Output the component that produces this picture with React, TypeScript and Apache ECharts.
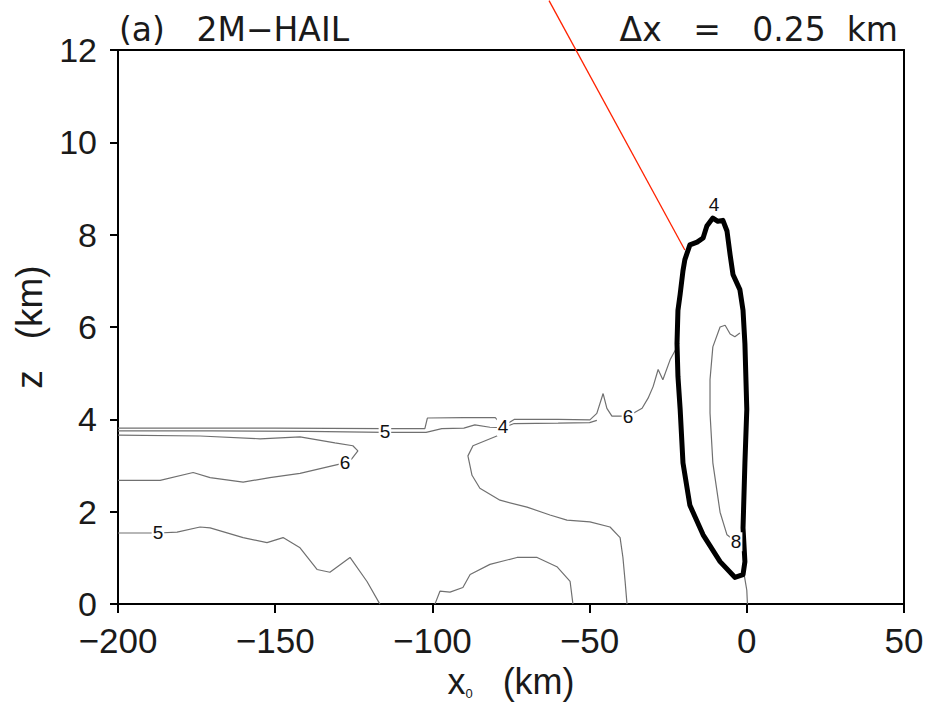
import React, { useEffect, useRef } from "react";
import * as echarts from "echarts";

// Axis ranges and ticks (km)
const X_MIN = -200;
const X_MAX = 50;
const X_STEP = 50;
const Z_MIN = 0;
const Z_MAX = 12;
const Z_STEP = 2;

// Bold outline of the convective cell  [x (km), z (km)]
const cellOutline: number[][] = [
  [-3.8, 0.58], [-8.5, 0.92], [-13.9, 1.5], [-18.1, 2.14], [-20.3, 3.06],
  [-21.2, 4.22], [-21.9, 4.93], [-22.2, 5.64], [-21.9, 6.36], [-21.2, 6.71],
  [-20.3, 7.22], [-19.7, 7.46], [-18.1, 7.78], [-15.8, 7.84], [-13.9, 7.93],
  [-12.7, 8.19], [-10.8, 8.36], [-9.2, 8.29], [-7.6, 8.31], [-6.3, 8.08],
  [-5.3, 7.56], [-4.4, 7.14], [-2.2, 6.81], [-1.2, 6.36], [-0.6, 5.64],
  [0.0, 4.22], [-0.6, 3.06], [-1.2, 1.65], [-0.6, 0.92], [-1.2, 0.64],
  [-3.8, 0.58],
];

// Inner contour inside the cell (value 8)
const innerContour8: number[][] = [
  [-2.2, 5.87], [-3.8, 5.79], [-5.3, 5.85], [-6.9, 6.04], [-8.5, 6.0],
  [-10.8, 5.57], [-11.7, 4.86], [-11.7, 4.14], [-10.8, 3.06], [-8.5, 1.99],
  [-6.3, 1.5], [-3.4, 1.35], [-2.2, 1.24],
];

// Line from the cell base down to the surface
const surfaceLine: number[][] = [[-0.8, 0.62], [0.0, 0.3], [0.2, 0]];

// Upper line of the melting-level band, feeding the ragged edge at the cell
const band4: number[][] = [
  [-200, 3.81], [-150, 3.81], [-115, 3.8], [-102.4, 3.8], [-101.6, 4.03],
  [-90, 4.04], [-80, 4.04], [-77.5, 3.85], [-74, 4.0], [-60, 4.0],
  [-49.9, 3.99], [-47.7, 4.13], [-45.7, 4.56], [-44.5, 4.24], [-42.9, 4.07],
  [-37.8, 4.07], [-33.3, 4.24], [-31.4, 4.46], [-29.8, 4.71], [-28.2, 5.08],
  [-26.7, 4.86], [-24.4, 5.29], [-22.5, 5.53],
];

// Lower line of the band (value 5)
const band5: number[][] = [
  [-200, 3.75], [-170, 3.75], [-140, 3.74], [-115.1, 3.72], [-102, 3.72],
  [-97, 3.8], [-90, 3.81], [-86.5, 3.88], [-81.7, 3.83], [-77.5, 3.82],
  [-74, 3.91], [-60, 3.92], [-50, 3.93], [-47.7, 3.98],
];

// Contour 6 west of x = -120 km
const contour6West: number[][] = [
  [-200, 3.66], [-173.9, 3.64], [-154.8, 3.58], [-142.1, 3.62], [-131, 3.49],
  [-125.3, 3.43], [-123.7, 3.32], [-125.6, 3.15], [-127.8, 3.06], [-131.6, 3.0],
  [-142.1, 2.83], [-151.7, 2.74], [-160.2, 2.64], [-170.7, 2.74], [-176.1, 2.85],
  [-186.6, 2.68], [-200, 2.68],
];

// Low-level contour 5
const contour5Low: number[][] = [
  [-200, 1.54], [-187.3, 1.54], [-181.2, 1.56], [-173.9, 1.67], [-170.7, 1.65],
  [-160.2, 1.44], [-152.6, 1.33], [-147.5, 1.44], [-142.1, 1.22], [-136.7, 0.75],
  [-132.6, 0.69], [-126.2, 1.01], [-120.8, 0.49], [-116.7, 0.0],
];

// Contour dropping from the band to the surface near x = -38 km
const contour4Trough: number[][] = [
  [-77.5, 3.82], [-79.5, 3.64], [-87.1, 3.43], [-88.7, 3.21], [-87.4, 2.79],
  [-84.9, 2.51], [-78.5, 2.25], [-69.9, 2.1], [-62.6, 1.93], [-57.2, 1.82],
  [-49.9, 1.78], [-43.5, 1.67], [-40.3, 1.44], [-39.4, 1.01], [-38.7, 0.49],
  [-38.1, 0.0],
];

// Dome-shaped surface contour between -100 and -55 km
const domeContour: number[][] = [
  [-99.2, 0.0], [-97.6, 0.28], [-94.4, 0.26], [-90.3, 0.36], [-88.0, 0.64],
  [-81.7, 0.86], [-73.1, 1.01], [-66.7, 1.01], [-60.4, 0.81], [-56.2, 0.49],
  [-55.3, 0.0],
];

// Red pointer to the cell top
const pointerLine: number[][] = [[-62.9, 13.07], [-19.7, 7.67]];

// Contour labels  [x, z, value]
const contourLabels: number[][] = [
  [-115.1, 3.74, 5],
  [-77.5, 3.84, 4],
  [-127.8, 3.06, 6],
  [-187.3, 1.54, 5],
  [-37.8, 4.07, 6],
  [-10.4, 8.66, 4],
  [-3.4, 1.35, 8],
];

const FONT = "'Liberation Sans', Arial, Helvetica, sans-serif";
const TITLE_FONT = "'DejaVu Sans', 'Liberation Sans', sans-serif";
const TEXT = "#1a1a1a";

const fmtNum = (v: number) => (v < 0 ? "\u2212" + Math.abs(v) : String(v));

function thinLine(data: number[][]) {
  return {
    type: "line",
    data,
    symbol: "none",
    showSymbol: false,
    silent: true,
    z: 3,
    lineStyle: { color: "#707070", width: 1.2 },
  };
}

export default function App() {
  const ref = useRef<HTMLDivElement>(null);

  useEffect(() => {
    if (!ref.current) return;
    const chart = echarts.init(ref.current, undefined, { renderer: "svg" });

    const xBase = { type: "value", min: X_MIN, max: X_MAX, interval: X_STEP };
    const yBase = { type: "value", min: Z_MIN, max: Z_MAX, interval: Z_STEP };
    const line = { show: true, onZero: false, lineStyle: { color: "#000", width: 2 } };
    const noSplit = { show: false };

    chart.setOption({
      animation: false,
      backgroundColor: "#fff",
      title: [
        {
          text: "(a)   2M\u2212HAIL",
          left: 114,
          top: 8,
          textStyle: { fontFamily: TITLE_FONT, fontSize: 33, fontWeight: "normal", color: TEXT },
        },
        {
          text: "\u0394x   =   0.25  km",
          right: 25,
          top: 8,
          textStyle: { fontFamily: TITLE_FONT, fontSize: 33, fontWeight: "normal", color: TEXT },
        },
      ],
      grid: { left: 118, right: 24, top: 50, bottom: 95, containLabel: false },
      xAxis: [
        {
          ...xBase,
          position: "bottom",
          axisLine: line,
          axisTick: {
            show: true,
            inside: false,
            length: 9,
            interval: 0,
            lineStyle: { color: "#000", width: 2 },
          },
          axisLabel: {
            show: true,
            margin: 19,
            fontFamily: FONT,
            fontSize: 35,
            color: TEXT,
            formatter: fmtNum,
          },
          splitLine: noSplit,
          name: "{x|x}{s|0}{x|   (km)}",
          nameLocation: "middle",
          nameGap: 48,
          nameTextStyle: {
            fontFamily: FONT,
            fontSize: 36,
            color: TEXT,
            rich: {
              x: { fontFamily: FONT, fontSize: 36, lineHeight: 38, color: TEXT },
              s: {
                fontFamily: FONT,
                fontSize: 13,
                lineHeight: 13,
                verticalAlign: "bottom",
                color: TEXT,
              },
            },
          },
        },
        {
          ...xBase,
          position: "top",
          axisLine: line,
          axisTick: { show: false },
          axisLabel: { show: false },
          splitLine: noSplit,
        },
      ],
      yAxis: [
        {
          ...yBase,
          position: "left",
          axisLine: line,
          axisTick: {
            show: true,
            inside: false,
            length: 8,
            interval: 0,
            lineStyle: { color: "#000", width: 2 },
          },
          axisLabel: {
            show: true,
            margin: 21,
            fontFamily: FONT,
            fontSize: 34,
            color: TEXT,
          },
          splitLine: noSplit,
          name: "z   (km)",
          nameLocation: "middle",
          nameGap: 67,
          nameTextStyle: { fontFamily: FONT, fontSize: 37, color: TEXT },
        },
        {
          ...yBase,
          position: "right",
          axisLine: line,
          axisTick: { show: false },
          axisLabel: { show: false },
          splitLine: noSplit,
        },
      ],
      series: [
        thinLine(band4),
        thinLine(band5),
        thinLine(contour6West),
        thinLine(contour5Low),
        thinLine(contour4Trough),
        thinLine(domeContour),
        thinLine(innerContour8),
        thinLine(surfaceLine),
        {
          type: "line",
          data: cellOutline,
          symbol: "none",
          showSymbol: false,
          silent: true,
          z: 4,
          lineStyle: { color: "#000", width: 5, join: "round", cap: "round" },
        },
        {
          type: "scatter",
          data: contourLabels,
          symbol: "circle",
          symbolSize: 1,
          silent: true,
          z: 6,
          itemStyle: { color: "rgba(255,255,255,0)" },
          label: {
            show: true,
            position: "inside",
            formatter: (p: any) => String(p.value[2]),
            fontFamily: FONT,
            fontSize: 19,
            color: "#111",
            opacity: 1,
            backgroundColor: "#fff",
            padding: [0, 1],
          },
        },
        {
          type: "line",
          data: pointerLine,
          symbol: "none",
          showSymbol: false,
          silent: true,
          clip: false,
          z: 7,
          lineStyle: { color: "#ff2200", width: 1.3 },
        },
      ],
    });

    return () => chart.dispose();
  }, []);

  return (
    <div
      ref={ref}
      style={{ position: "fixed", left: 0, top: 0, width: 928, height: 705, background: "#fff" }}
    />
  );
}
